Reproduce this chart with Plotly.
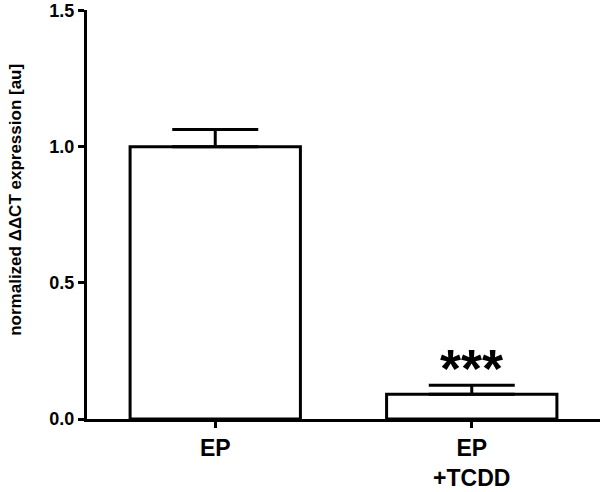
import plotly.graph_objects as go

groups = ["EP", "EP<br>+TCDD"]
means = [1.0, 0.091]
sem = [0.063, 0.033]
stars = ["", "***"]

ytick_vals = [0.0, 0.5, 1.0, 1.5]
ytick_text = ["0.0", "0.5", "1.0", "1.5"]

font_family = "Liberation Sans, Arial, sans-serif"

fig = go.Figure()
fig.add_trace(go.Bar(
    x=[0, 1], y=means,
    marker=dict(color="white", line=dict(color="black", width=3)),
    error_y=dict(type="data", array=sem, arrayminus=[0, 0], symmetric=False,
                 color="black", thickness=3, width=43),
))

for i, s in enumerate(stars):
    if s:
        fig.add_annotation(x=i, y=means[i] + sem[i], text="<b>" + s + "</b>",
                           showarrow=False, yanchor="bottom", yshift=-15,
                           font=dict(family=font_family, size=54, color="black"))

fig.add_annotation(xref="paper", yref="paper", x=0, y=0.536, xshift=-71,
                   text="<b>normalized ΔΔCT expression [au]</b>", textangle=-90,
                   showarrow=False, xanchor="center", yanchor="middle",
                   font=dict(family=font_family, size=17, color="black"))

fig.update_layout(
    width=601, height=492,
    margin=dict(l=87, r=1, t=9, b=71),
    paper_bgcolor="white", plot_bgcolor="white",
    bargap=0.336, showlegend=False,
    font=dict(family=font_family, color="black"),
)
fig.update_xaxes(
    range=[-0.5, 1.5], tickmode="array", tickvals=[0, 1], ticktext=groups,
    showline=True, linecolor="black", linewidth=3, showgrid=False, zeroline=False,
    ticks="outside", ticklen=6, tickwidth=3, tickcolor="black",
    tickfont=dict(family=font_family, size=23, weight="bold", color="black"),
)
fig.update_yaxes(
    range=[0, 1.502], tickmode="array", tickvals=ytick_vals, ticktext=ytick_text,
    showline=True, linecolor="black", linewidth=3, showgrid=False, zeroline=False,
    ticks="outside", ticklen=6, tickwidth=3, tickcolor="black",
    ticklabeloverflow="allow",
    tickfont=dict(family=font_family, size=18, weight="bold", color="black"),
)

fig.write_html("out.html", config={"displayModeBar": False},
               post_script="document.body.style.margin='0';")
